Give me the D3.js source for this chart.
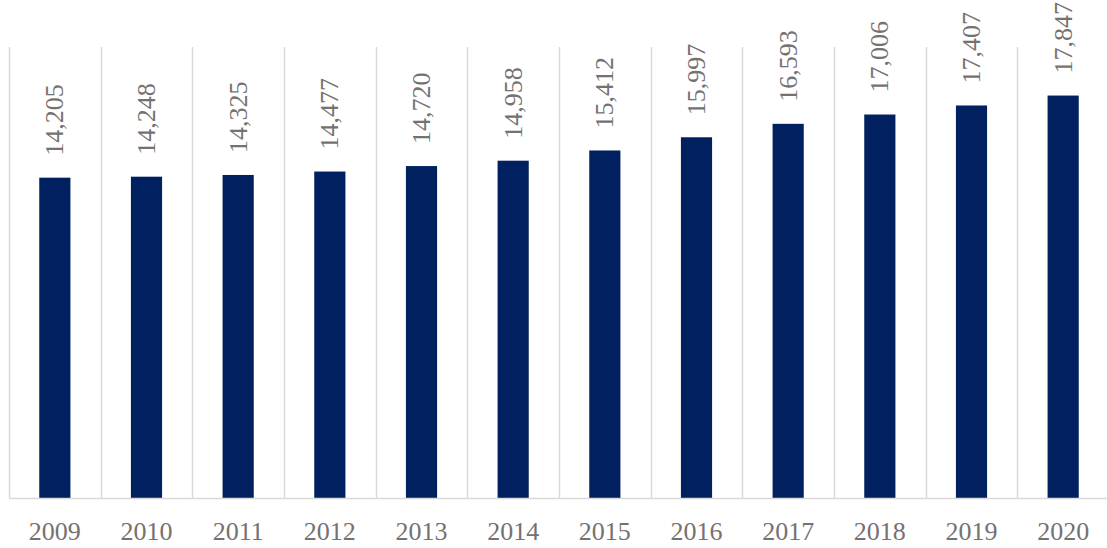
<!DOCTYPE html>
<html>
<head>
<meta charset="utf-8">
<script src="https://cdn.jsdelivr.net/npm/d3@7"></script>
<style>
  body { margin: 0; background: #fff; }
  svg { display: block; }
</style>
</head>
<body>
<div id="chart"></div>
<script>
var years = ["2009", "2010", "2011", "2012", "2013", "2014", "2015", "2016", "2017", "2018", "2019", "2020"];
var values = [14205, 14248, 14325, 14477, 14720, 14958, 15412, 15997, 16593, 17006, 17407, 17847];

var W = 1107, H = 548;
var margin = { top: 47, right: -2, bottom: 50, left: 9 },
    width = W - margin.left - margin.right,
    height = H - margin.top - margin.bottom;

var data = years.map(function (y, i) { return { year: y, value: values[i] }; });

var svg = d3.select("#chart")
    .append("svg")
    .attr("width", W)
    .attr("height", H)
    .append("g")
    .attr("transform", "translate(" + margin.left + "," + margin.top + ")");

var x = d3.scaleBand()
    .domain(years)
    .range([0, width])
    .paddingInner(0.66)
    .paddingOuter(0.33);

var step = x.step();

var y = d3.scaleLinear()
    .domain([0, 20000])
    .range([height, 0]);

// vertical gridlines between categories
svg.selectAll(".grid")
    .data(d3.range(years.length + 1))
    .enter()
    .append("line")
    .attr("x1", function (i) { return Math.round(i * step) + 0.5; })
    .attr("x2", function (i) { return Math.round(i * step) + 0.5; })
    .attr("y1", 0)
    .attr("y2", height)
    .attr("stroke", "#d9d9d9")
    .attr("stroke-width", 1.5);

svg.selectAll(".bar")
    .data(data)
    .enter()
    .append("rect")
    .attr("x", function (d) { return x(d.year); })
    .attr("y", function (d) { return y(d.value); })
    .attr("width", x.bandwidth())
    .attr("height", function (d) { return height - y(d.value); })
    .attr("fill", "#002060");

// baseline
svg.append("line")
    .attr("x1", 0)
    .attr("x2", width)
    .attr("y1", height + 0.5)
    .attr("y2", height + 0.5)
    .attr("stroke", "#d9d9d9")
    .attr("stroke-width", 1.5);

// value labels
svg.selectAll(".lbl")
    .data(data)
    .enter()
    .append("text")
    .attr("transform", function (d) {
        return "translate(" + (x(d.year) + x.bandwidth() / 2) + "," + (y(d.value) - 22) + ") rotate(-90)";
    })
    .attr("dy", "0.33em")
    .attr("text-anchor", "start")
    .style("font-family", "'Liberation Serif', 'Times New Roman', serif")
    .style("font-size", "26px")
    .style("fill", "#767171")
    .text(function (d) { return d3.format(",")(d.value); });

// x axis labels
svg.selectAll(".xl")
    .data(years)
    .enter()
    .append("text")
    .attr("x", function (d) { return x(d) + x.bandwidth() / 2; })
    .attr("y", height + 42)
    .attr("text-anchor", "middle")
    .style("font-family", "'Liberation Serif', 'Times New Roman', serif")
    .style("font-size", "26px")
    .style("fill", "#767171")
    .text(function (d) { return d; });
</script>
</body>
</html>
